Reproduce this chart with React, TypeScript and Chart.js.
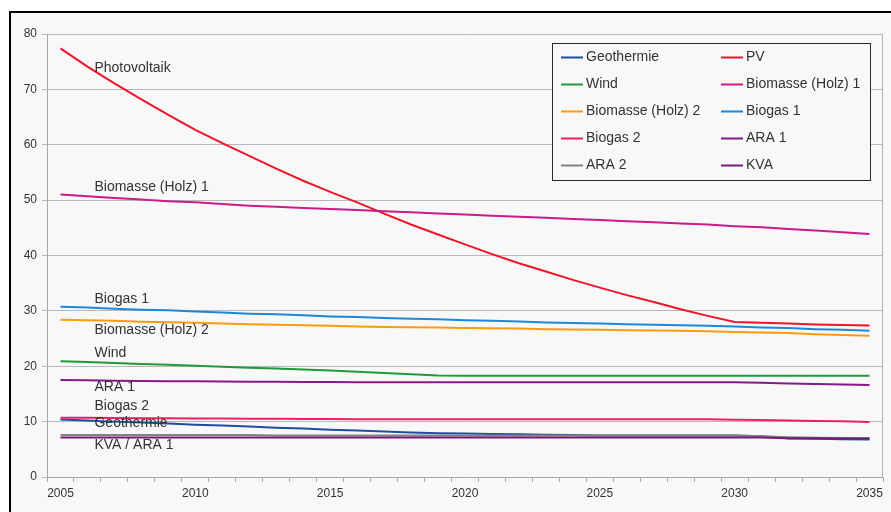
import React, { useEffect, useRef } from 'react';
import { Chart, registerables } from 'chart.js';

Chart.register(...registerables);

const years = ['2005', '2006', '2007', '2008', '2009', '2010', '2011', '2012', '2013', '2014', '2015', '2016', '2017', '2018', '2019', '2020', '2021', '2022', '2023', '2024', '2025', '2026', '2027', '2028', '2029', '2030', '2031', '2032', '2033', '2034', '2035'];

const geothermie = [10.4, 10.2, 10.0, 9.85, 9.65, 9.45, 9.3, 9.1, 8.9, 8.75, 8.55, 8.4, 8.2, 8.05, 7.9, 7.85, 7.75, 7.7, 7.65, 7.6, 7.5, 7.5, 7.5, 7.5, 7.5, 7.5, 7.35, 6.95, 6.9, 6.8, 6.75];
const pv = [77.4, 74.1, 71.1, 68.2, 65.4, 62.7, 60.3, 58.0, 55.7, 53.5, 51.5, 49.6, 47.55, 45.6, 43.8, 42.0, 40.25, 38.6, 37.1, 35.6, 34.2, 32.85, 31.6, 30.3, 29.1, 28.0, 27.85, 27.7, 27.55, 27.45, 27.35];
const wind = [20.9, 20.75, 20.6, 20.4, 20.25, 20.1, 19.9, 19.75, 19.6, 19.4, 19.25, 19.0, 18.8, 18.55, 18.35, 18.3, 18.3, 18.3, 18.3, 18.3, 18.3, 18.3, 18.3, 18.3, 18.3, 18.3, 18.3, 18.3, 18.3, 18.3, 18.3];
const biomasse1 = [51.0, 50.7, 50.4, 50.1, 49.8, 49.6, 49.3, 49.0, 48.8, 48.6, 48.4, 48.2, 48.0, 47.8, 47.6, 47.4, 47.2, 47.0, 46.8, 46.6, 46.4, 46.2, 46.0, 45.8, 45.6, 45.3, 45.1, 44.8, 44.5, 44.2, 43.9];
const biomasse2 = [28.4, 28.3, 28.2, 28.05, 27.95, 27.85, 27.7, 27.6, 27.5, 27.4, 27.3, 27.2, 27.1, 27.05, 27.0, 26.9, 26.85, 26.8, 26.7, 26.65, 26.6, 26.5, 26.45, 26.4, 26.3, 26.2, 26.1, 26.0, 25.8, 25.65, 25.5];
const biogas1 = [30.75, 30.6, 30.4, 30.2, 30.1, 29.9, 29.7, 29.5, 29.4, 29.2, 29.0, 28.9, 28.7, 28.6, 28.5, 28.3, 28.2, 28.1, 27.9, 27.8, 27.7, 27.6, 27.5, 27.4, 27.3, 27.2, 27.0, 26.9, 26.7, 26.6, 26.4];
const biogas2 = [10.7, 10.68, 10.65, 10.62, 10.6, 10.57, 10.55, 10.52, 10.5, 10.48, 10.47, 10.45, 10.45, 10.45, 10.45, 10.45, 10.45, 10.45, 10.45, 10.45, 10.45, 10.45, 10.45, 10.45, 10.45, 10.35, 10.3, 10.2, 10.1, 10.05, 9.95];
const ara1 = [17.5, 17.45, 17.4, 17.35, 17.3, 17.3, 17.25, 17.2, 17.2, 17.15, 17.15, 17.1, 17.1, 17.1, 17.1, 17.1, 17.1, 17.1, 17.1, 17.1, 17.1, 17.1, 17.1, 17.1, 17.1, 17.1, 17.0, 16.9, 16.8, 16.7, 16.6];
const ara2 = [7.6, 7.6, 7.6, 7.6, 7.6, 7.6, 7.6, 7.6, 7.5, 7.5, 7.5, 7.5, 7.5, 7.5, 7.5, 7.5, 7.5, 7.5, 7.5, 7.5, 7.5, 7.5, 7.5, 7.5, 7.5, 7.5, 7.35, 7.2, 7.1, 7.05, 7.0];
const kva = [7.15, 7.15, 7.15, 7.15, 7.15, 7.15, 7.15, 7.15, 7.15, 7.15, 7.15, 7.15, 7.15, 7.15, 7.15, 7.15, 7.15, 7.15, 7.15, 7.15, 7.15, 7.15, 7.15, 7.15, 7.15, 7.15, 7.15, 7.0, 7.0, 6.95, 6.95];

const seriesNames = ['Geothermie', 'PV', 'Wind', 'Biomasse (Holz) 1', 'Biomasse (Holz) 2', 'Biogas 1', 'Biogas 2', 'ARA 1', 'ARA 2', 'KVA'];
const seriesValues = [geothermie, pv, wind, biomasse1, biomasse2, biogas1, biogas2, ara1, ara2, kva];
const seriesColors = ['#1c4fa0', '#f0142a', '#1e9a3c', '#cc1a88', '#ff9a10', '#1e88d8', '#f01e64', '#861a88', '#828282', '#761878'];

const yMin = 0;
const yMax = 80;
const yStep = 10;

const noteTexts = ['Photovoltaik', 'Biomasse (Holz) 1', 'Biogas 1', 'Biomasse (Holz) 2', 'Wind', 'ARA 1', 'Biogas 2', 'Geothermie', 'KVA / ARA 1'];
const noteValues = [73.8, 52.3, 32.15, 26.55, 22.3, 16.2, 12.8, 9.7, 5.8];

const FONT = '"Liberation Sans", Arial, sans-serif';

const framePlugin = {
  id: 'frame',
  beforeDraw(chart: any) {
    const ctx = chart.ctx;
    ctx.save();
    ctx.fillStyle = '#ffffff';
    ctx.fillRect(0, 0, chart.width, chart.height);
    ctx.fillStyle = '#f8f8f8';
    ctx.fillRect(10, 12, chart.width, chart.height);
    ctx.fillStyle = '#000000';
    ctx.fillRect(9, 11, chart.width, 2);
    ctx.fillRect(9, 11, 2, chart.height);
    ctx.restore();
  },
  afterDatasetsDraw(chart: any) {
    const ctx = chart.ctx;
    const area = chart.chartArea;
    const xs = chart.scales.x;
    const ys = chart.scales.y;
    ctx.save();
    ctx.strokeStyle = '#b4b4b4';
    ctx.lineWidth = 1;
    ctx.beginPath();
    ctx.moveTo(area.right - 0.5, area.top);
    ctx.lineTo(area.right - 0.5, area.bottom);
    ctx.stroke();

    ctx.font = '14px ' + FONT;
    ctx.fillStyle = '#333333';
    ctx.textAlign = 'left';
    ctx.textBaseline = 'middle';
    const nx = xs.getPixelForValue(1) + 7;
    noteTexts.forEach((t, i) => {
      ctx.fillText(t, nx, ys.getPixelForValue(noteValues[i]));
    });

    const lx = 552;
    const ly = 43;
    const lw = 318;
    const lh = 137;
    ctx.fillStyle = '#f8f8f8';
    ctx.fillRect(lx, ly, lw, lh);
    ctx.strokeStyle = '#2a2a2a';
    ctx.lineWidth = 1;
    ctx.strokeRect(lx + 0.5, ly + 0.5, lw, lh);
    seriesNames.forEach((name, k) => {
      const row = Math.floor(k / 2);
      const col = k % 2;
      const x0 = lx + 9 + col * 160;
      const yc = ly + 14.5 + row * 27;
      ctx.strokeStyle = seriesColors[k];
      ctx.lineWidth = 2;
      ctx.beginPath();
      ctx.moveTo(x0, yc);
      ctx.lineTo(x0 + 22, yc);
      ctx.stroke();
      ctx.fillStyle = '#333333';
      ctx.font = '14px ' + FONT;
      ctx.textAlign = 'left';
      ctx.textBaseline = 'middle';
      ctx.fillText(name, x0 + 25, yc);
    });
    ctx.restore();
  },
};

export default function App() {
  const ref = useRef<HTMLCanvasElement | null>(null);

  useEffect(() => {
    if (!ref.current) return;
    const n = seriesNames.length;
    const chart = new Chart(ref.current, {
      type: 'line',
      data: {
        labels: years,
        datasets: seriesNames.map((name, i) => ({
          label: name,
          data: seriesValues[i],
          borderColor: seriesColors[i],
          backgroundColor: seriesColors[i],
          borderWidth: 2,
          pointRadius: 0,
          tension: 0,
          fill: false,
          order: n - i,
        })),
      },
      options: {
        responsive: false,
        animation: false,
        devicePixelRatio: 1,
        layout: { padding: { top: 34, right: 8, bottom: 0, left: 0 } },
        plugins: {
          legend: { display: false },
          tooltip: { enabled: false },
        },
        scales: {
          x: {
            type: 'category',
            offset: true,
            grid: {
              display: true,
              offset: true,
              drawOnChartArea: false,
              drawTicks: true,
              tickLength: 5,
              color: '#a8a8a8',
            },
            border: { display: true, color: '#a8a8a8', width: 1 },
            ticks: {
              autoSkip: false,
              maxRotation: 0,
              padding: 4,
              color: '#333333',
              font: { family: FONT, size: 12 },
              callback: (_v: any, idx: number) => (idx % 5 === 0 ? years[idx] : ''),
            },
            afterFit: (s: any) => {
              s.height = 35;
            },
          },
          y: {
            min: yMin,
            max: yMax,
            grid: {
              color: '#b8b8b8',
              lineWidth: 1,
              drawTicks: true,
              tickLength: 5,
            },
            border: { display: true, color: '#a8a8a8', width: 1 },
            ticks: {
              stepSize: yStep,
              padding: 5,
              color: '#333333',
              font: { family: FONT, size: 12 },
            },
            afterFit: (s: any) => {
              s.width = 47;
            },
          },
        },
      },
      plugins: [framePlugin],
    });
    return () => chart.destroy();
  }, []);

  return (
    <div style={{ position: 'fixed', left: 0, top: 0, width: 891, height: 512, background: '#fff' }}>
      <canvas ref={ref} width={891} height={512} style={{ display: 'block', width: 891, height: 512 }} />
    </div>
  );
}
